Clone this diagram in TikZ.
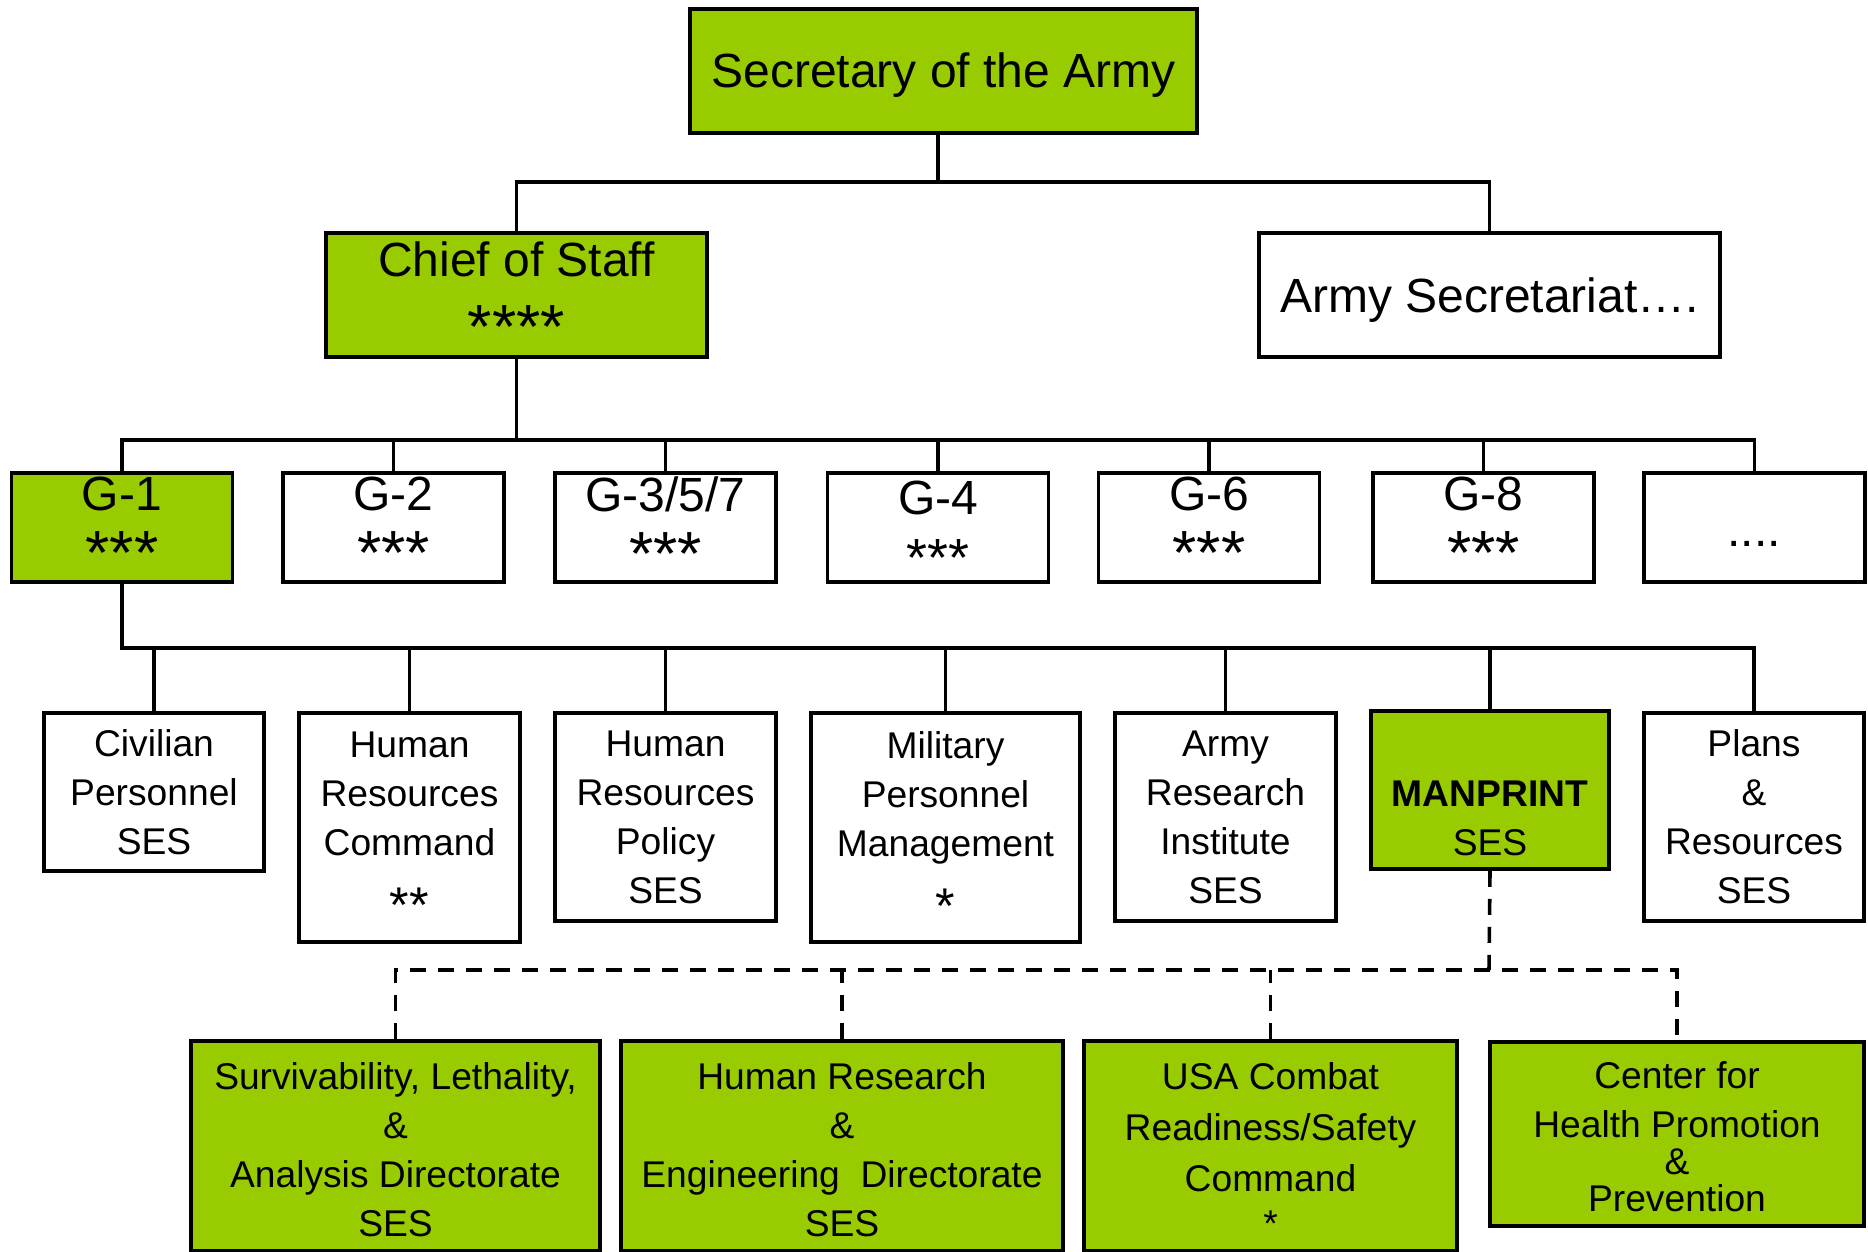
\documentclass[tikz,border=0pt]{standalone}
\usepackage{fontspec}
\setmainfont{Liberation Sans}
\usetikzlibrary{positioning}
\definecolor{ArmyGreen}{HTML}{99CC00}
\newcommand{\stars}[2][1.3]{\scalebox{#1}{#2}}

\begin{document}
\begin{tikzpicture}[
    x=0.5pt, y=-0.5pt,
    unit/.style={
        draw=black,
        line width=1.8pt,
        fill=white,
        inner sep=0pt,
        align=center,
        font=\fontsize{18.6}{24.5}\selectfont
    },
    lead/.style={unit, fill=ArmyGreen},
    big/.style={font=\fontsize{24}{32}\selectfont},
    gbox/.style={unit, minimum width=110.5pt, minimum height=54.5pt},
    gtxt/.style={inner sep=0pt, align=center, font=\fontsize{24}{32}\selectfont},
    link/.style={line width=1.8pt},
    dashed link/.style={line width=1.8pt, dash pattern=on 8pt off 6pt}
]
\useasboundingbox (0,0) rectangle (1868,1252);

% top levels
\node[lead, big, minimum width=253.5pt, minimum height=62pt] (sec) at (943.5,71) {\rule{0pt}{21.5pt}Secretary of the Army};
\node[lead, big, minimum width=190.5pt, minimum height=62pt] (cos) at (516.5,295) {Chief of Staff\\[4pt]\stars{****}};
\node[unit, big, minimum width=230.5pt, minimum height=62pt] (asec) at (1489.5,295) {\rule{0pt}{22.5pt}Army Secretariat….};

% staff sections
\node[gbox, fill=ArmyGreen] (g1) at (122,527.5) {};
\node[gbox] (g2) at (393.5,527.5) {};
\node[gbox] (g357) at (665.5,527.5) {};
\node[gbox] (g4) at (938,527.5) {};
\node[gbox] (g6) at (1209,527.5) {};
\node[gbox] (g8) at (1483.5,527.5) {};
\node[gbox] (gmore) at (1754.5,527.5) {};

\node[gtxt, below=2.5pt of g1.north] (g1t) {G-1\\\stars{***}};
\node[gtxt, below=2.5pt of g2.north] (g2t) {G-2\\\stars{***}};
\node[gtxt, below=2.5pt of g357.north] (g357t) {G-3/5/7\\\stars{***}};
\node[gtxt, below=4.5pt of g4.north] (g4t) {G-4\\[-1pt]\stars[1.12]{***}};
\node[gtxt, below=2.5pt of g6.north] (g6t) {G-6\\\stars{***}};
\node[gtxt, below=2.5pt of g8.north] (g8t) {G-8\\\stars{***}};
\node[gtxt, anchor=base] (gmoret) at (1754,546) {....};

% G-1 offices
\node[unit, minimum width=110pt, minimum height=79pt] (civ) at (154,792) {Civilian\\Personnel\\SES};
\node[unit, minimum width=110.5pt, minimum height=114.5pt] (hrc) at (409.5,827.5) {Human\\Resources\\Command\\[9pt]\stars[1.35]{**}};
\node[unit, minimum width=110.5pt, minimum height=104pt] (hrp) at (665.5,817) {Human\\Resources\\Policy\\SES};
\node[unit, minimum width=134.5pt, minimum height=114.5pt] (mpm) at (945.5,827.5) {Military\\Personnel\\Management\\[9pt]\stars[1.35]{*}};
\node[unit, minimum width=110.5pt, minimum height=104pt] (ari) at (1225.5,817) {Army\\Research\\Institute\\SES};
\node[lead, minimum width=119pt, minimum height=79pt] (mpt) at (1490,790) {\strut\\\textbf{MANPRINT}\\SES};
\node[unit, minimum width=110pt, minimum height=104pt] (pnr) at (1754,817) {Plans\\\&\\Resources\\SES};

% MANPRINT directorates
\node[lead, minimum width=204.5pt, minimum height=104.7pt] (sla) at (395.5,1145.7) {\rule{0pt}{17.6pt}Survivability, Lethality,\\\&\\Analysis Directorate\\SES};
\node[lead, minimum width=221pt, minimum height=104.7pt] (hred) at (842,1145.7) {\rule{0pt}{17.6pt}Human Research\\\&\\Engineering\ \ Directorate\\SES};
\node[lead, minimum width=186.5pt, minimum height=104.7pt] (usac) at (1270.5,1145.7) {\rule{0pt}{17.6pt}USA Combat\\[1pt]Readiness/Safety\\[1pt]Command\\[-2pt]*};
\node[lead, minimum width=187pt, minimum height=92pt] (chpp) at (1677,1134) {\rule{0pt}{16pt}Center for\\Health Promotion\\[-6pt]\&\\[-6pt]Prevention};

% connectors
\coordinate (top bar) at (938,182);
\coordinate (g bar) at (516,440);
\coordinate (hr bar) at (122,648);
\coordinate (dir bar) at (1489,970);

\draw[link] (sec.south -| top bar) -- (top bar);
\draw[link] (cos.north) |- (top bar) -| (asec.north);

\draw[link] (cos.south) -- (cos.south |- g bar);
\draw[link] (g1.north) |- (g bar) -| (gmore.north);
\foreach \n in {g2,g357,g4,g6,g8}
    \draw[link] (\n.north) -- (\n.north |- g bar);

\draw[link] (g1.south) -- (hr bar) -| (pnr.north);
\foreach \n in {civ,hrc,hrp,mpm,ari,mpt}
    \draw[link] (\n.north) -- (\n.north |- hr bar);

\draw[dashed link] (mpt.south) -- (dir bar);
\draw[dashed link] (sla.north) |- (dir bar) -| (chpp.north);
\foreach \n in {hred,usac}
    \draw[dashed link] (\n.north) -- (\n.north |- dir bar);
\end{tikzpicture}
\end{document}
